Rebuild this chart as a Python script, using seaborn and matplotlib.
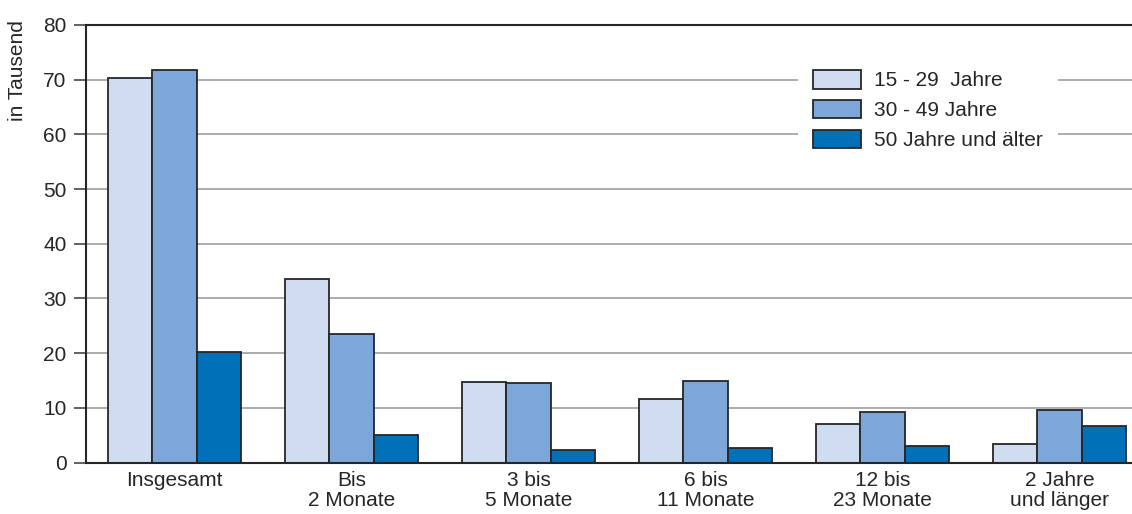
import matplotlib
matplotlib.use("Agg")
import matplotlib.pyplot as plt
import seaborn as sns
import pandas as pd

# Duration categories and age groups
categories = ["Insgesamt", "Bis\n2 Monate", "3 bis\n5 Monate", "6 bis\n11 Monate",
              "12 bis\n23 Monate", "2 Jahre\nund länger"]
age_groups = ["15 - 29  Jahre", "30 - 49 Jahre", "50 Jahre und älter"]

# Values in thousands
age_15_29 = [70.3, 33.5, 14.7, 11.6, 7.0, 3.5]
age_30_49 = [71.8, 23.6, 14.5, 14.9, 9.2, 9.6]
age_50_plus = [20.2, 5.1, 2.3, 2.7, 3.1, 6.7]

yticks = [0, 10, 20, 30, 40, 50, 60, 70, 80]
colors = ["#D0DDF0", "#7DA7D8", "#0070B9"]

df = pd.DataFrame({
    "Kategorie": categories * 3,
    "Alter": [age_groups[0]] * 6 + [age_groups[1]] * 6 + [age_groups[2]] * 6,
    "Wert": age_15_29 + age_30_49 + age_50_plus,
})

sns.set_style("white")
plt.rcParams["font.family"] = ["Liberation Sans", "DejaVu Sans"]
FS = 15

fig = plt.figure(figsize=(11.32, 5.14), dpi=100)
ax = fig.add_axes([86 / 1132, 51.3 / 514, 1 - 86 / 1132, 437.9 / 514])

ax.set_axisbelow(True)
for y in yticks[1:-1]:
    ax.axhline(y, color="#A6A6A6", lw=1.3, zorder=0)

sns.barplot(data=df, x="Kategorie", y="Wert", hue="Alter", order=categories,
            hue_order=age_groups, palette=colors, width=0.75, gap=0,
            edgecolor="#262626", linewidth=1.3, saturation=1, ax=ax, zorder=2)

ax.set_xlim(-0.5, -0.5 + 1046 / 177)
ax.set_ylim(0, 80)
ax.set_yticks(yticks)
ax.set_xlabel("")
ax.set_ylabel("")

for side in ["left", "bottom", "top"]:
    ax.spines[side].set_visible(True)
    ax.spines[side].set_color("#262626")
    ax.spines[side].set_linewidth(1.5)
ax.spines["right"].set_visible(False)

ax.tick_params(axis="y", length=9, width=1.3, color="#555555", pad=5,
               labelsize=FS, labelcolor="#262626", left=True)
ax.tick_params(axis="x", length=0, pad=6, labelsize=FS, labelcolor="#262626")
for lbl in ax.get_xticklabels():
    lbl.set_linespacing(1.08)

fig.text(18 / 1132, 1 - 20 / 514, "in Tausend", rotation=90, va="top", ha="center",
         fontsize=FS, color="#262626")

handles, labels = ax.get_legend_handles_labels()
leg = ax.legend(handles, labels, loc="upper left", bbox_to_anchor=(0.681, 0.931),
                borderaxespad=0, borderpad=0.72, frameon=True, fancybox=False,
                facecolor="white", edgecolor="none", framealpha=1,
                fontsize=FS, handlelength=2.3, handleheight=1.0,
                handletextpad=0.62, labelspacing=0.45, title=None)
for t in leg.get_texts():
    t.set_color("#262626")

fig.savefig("out.png", dpi=100)
